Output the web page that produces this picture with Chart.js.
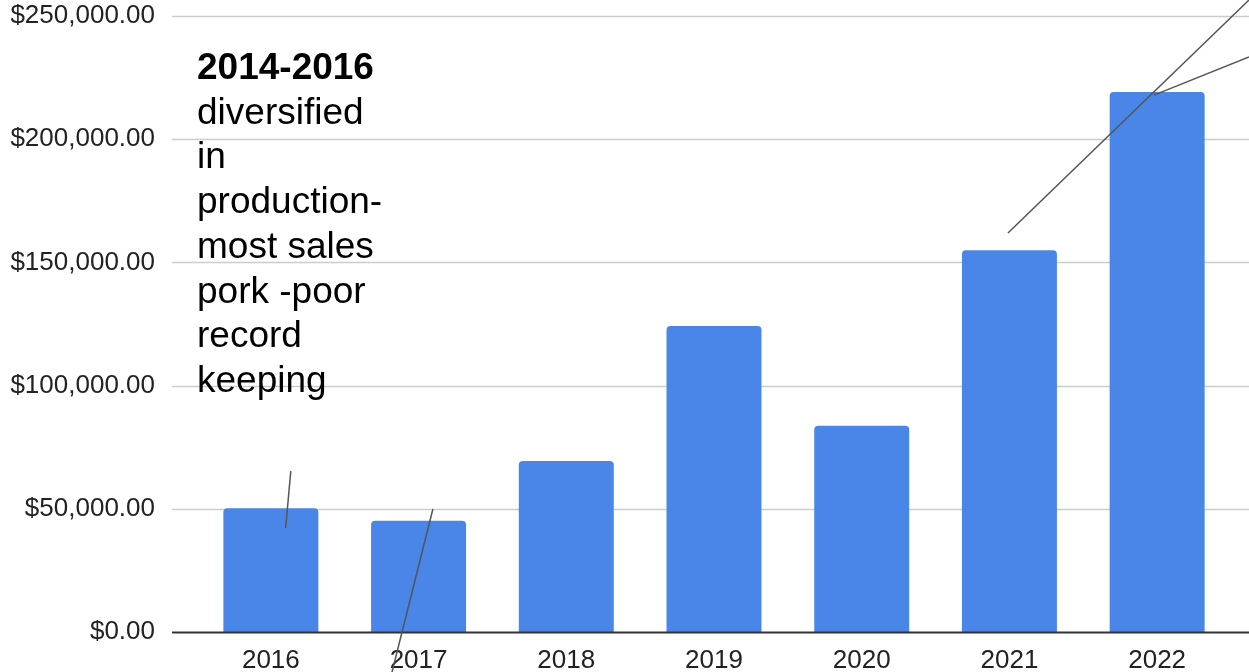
<!DOCTYPE html>
<html><head><meta charset="utf-8">
<script src="https://cdn.jsdelivr.net/npm/chart.js@4/dist/chart.umd.min.js"></script>
<style>
html,body{margin:0;padding:0;background:#fff;overflow:hidden;}
#wrap{position:relative;width:1249px;height:672px;}
#note{position:absolute;left:197px;top:45px;font-family:"Liberation Sans",Arial,sans-serif;font-size:37px;line-height:44.7px;color:#000;white-space:nowrap;}
</style></head><body>
<div id="wrap"><canvas id="c" width="1249" height="672"></canvas>
<div id="note"><b>2014-2016</b><br>diversified<br>in<br>production-<br>most sales<br>pork -poor<br>record<br>keeping</div></div>
<script>
const years = ['2016','2017','2018','2019','2020','2021','2022'];
const sales = [50200, 45200, 69400, 124200, 83700, 154900, 219200];
const yMin = 0, yMax = 250000, yStep = 50000;
// annotation leader lines in data coordinates: [catIndexFrom, valueFrom, catIndexTo, valueTo]
const leaderLines = [
  [0.135, 65300, 0.10, 42200],
  [1.097, 49900, 0.82, -16300],
  [4.99, 161900, 6.622, 256500],
  [5.978, 217900, 6.622, 233400]
];

const FONT = '"Liberation Sans", Arial, sans-serif';

const gridPlugin = {
  id: 'gridExt',
  beforeDatasetsDraw(chart) {
    const ctx = chart.ctx, y = chart.scales.y;
    ctx.save();
    ctx.lineWidth = 1.6;
    ctx.strokeStyle = '#cccccc';
    y.ticks.forEach(t => {
      if (t.value === 0) return;
      const py = Math.round(y.getPixelForValue(t.value)) + 0.5;
      ctx.beginPath(); ctx.moveTo(172, py); ctx.lineTo(chart.width, py); ctx.stroke();
    });
    ctx.restore();
  },
  afterDatasetsDraw(chart) {
    const ctx = chart.ctx, y = chart.scales.y, x = chart.scales.x;
    ctx.save();
    const py = Math.round(y.getPixelForValue(0)) + 0.5;
    ctx.lineWidth = 2; ctx.strokeStyle = '#333333';
    ctx.beginPath(); ctx.moveTo(172, py); ctx.lineTo(chart.width, py); ctx.stroke();
    const x0 = x.getPixelForValue(0), dx = x.getPixelForValue(1) - x0;
    ctx.lineWidth = 1.5; ctx.strokeStyle = '#555555';
    leaderLines.forEach(l => {
      ctx.beginPath();
      ctx.moveTo(x0 + l[0]*dx, y.getPixelForValue(l[1]));
      ctx.lineTo(x0 + l[2]*dx, y.getPixelForValue(l[3]));
      ctx.stroke();
    });
    ctx.restore();
  }
};

new Chart(document.getElementById('c'), {
  type: 'bar',
  data: {
    labels: years,
    datasets: [{
      data: sales,
      backgroundColor: '#4a86e8',
      borderRadius: {topLeft: 4, topRight: 4, bottomLeft: 0, bottomRight: 0},
      borderSkipped: 'start',
      categoryPercentage: 1,
      barPercentage: 0.643
    }]
  },
  options: {
    responsive: false,
    animation: false,
    devicePixelRatio: 1,
    layout: {padding: {top: 16, right: 18, left: 0, bottom: 0}},
    plugins: {legend: {display: false}, tooltip: {enabled: false}},
    scales: {
      x: {
        grid: {display: false, drawTicks: false},
        border: {display: false},
        ticks: {font: {family: FONT, size: 26}, color: '#222', padding: 13, maxRotation: 0},
        afterFit(s) { s.height = 40; s.paddingLeft = 0; s.paddingRight = 0; }
      },
      y: {
        min: yMin, max: yMax,
        grid: {display: false, drawTicks: false},
        border: {display: false},
        ticks: {
          stepSize: yStep,
          font: {family: FONT, size: 26}, color: '#222', padding: 42,
          callback: v => '$' + Number(v).toLocaleString('en-US', {minimumFractionDigits: 2, maximumFractionDigits: 2})
        },
        afterFit(s) { s.width = 197; s.paddingTop = 14; s.paddingBottom = 14; }
      }
    }
  },
  plugins: [gridPlugin]
});
</script>
</body></html>
